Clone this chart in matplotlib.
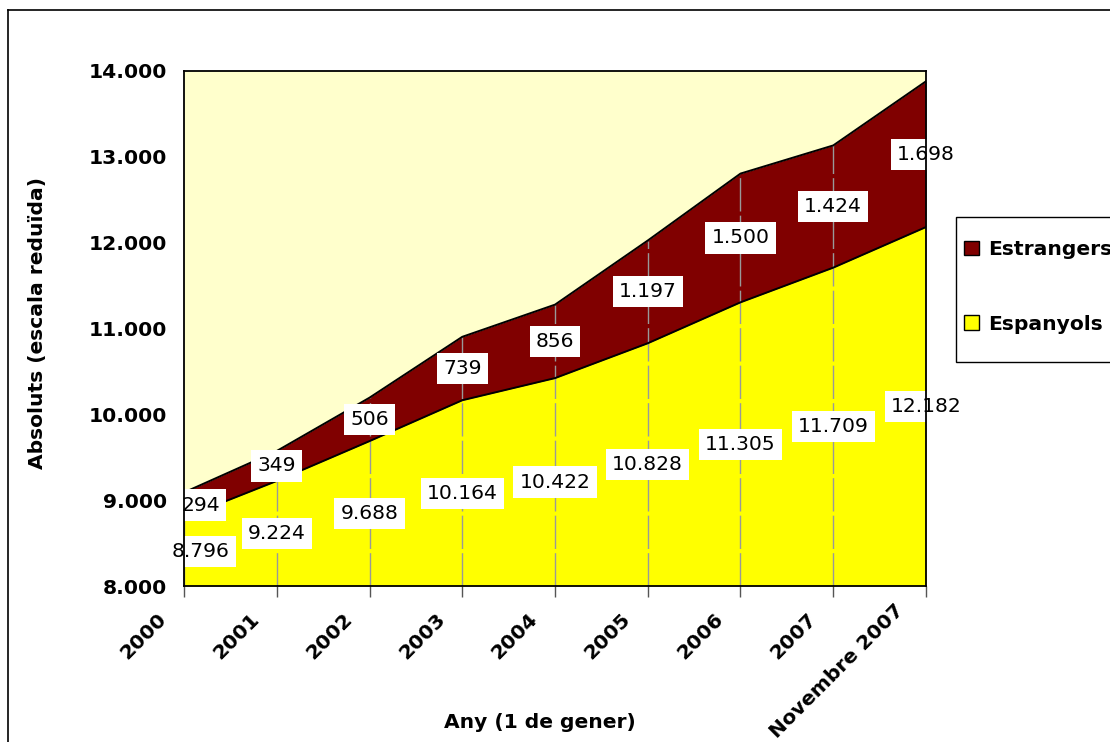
import numpy as np
import matplotlib.pyplot as plt
import matplotlib.transforms as mtransforms
from matplotlib.patches import Patch, Rectangle
from matplotlib.lines import Line2D

plt.rcParams['font.family'] = ['DejaVu Sans']

# population by year (1 January), stacked
years = ["2000", "2001", "2002", "2003", "2004", "2005", "2006", "2007", "Novembre 2007"]
espanyols = [8796, 9224, 9688, 10164, 10422, 10828, 11305, 11709, 12182]
estrangers = [294, 349, 506, 739, 856, 1197, 1500, 1424, 1698]

x = np.arange(len(years))
esp = np.array(espanyols)
tot = esp + np.array(estrangers)

FS = 14.6
W, H = 1110, 742

def fmt(v):
    return f"{v:,}".replace(",", ".")

fig = plt.figure(figsize=(W / 100, H / 100), dpi=100)
ax = fig.add_axes([184 / W, 1 - 586 / H, 742 / W, 515 / H])
ax.set_facecolor("#FFFFCC")

ax.fill_between(x, 8000, esp, color="#FFFF00", lw=0, zorder=1)
ax.fill_between(x, esp, tot, color="#800000", lw=0, zorder=1)
ax.vlines(x, 8000, tot, color="#999999", lw=1, linestyles=(0, (24, 3)), zorder=2)
ax.plot(x, esp, color="black", lw=1.4, zorder=3)
ax.plot(x, tot, color="black", lw=1.4, zorder=3)

box = dict(boxstyle="square,pad=0.3", fc="white", ec="none")
for i in x:
    dx = 12 if i == 0 else 0
    ax.annotate(fmt(espanyols[i]), (i, (8000 + esp[i]) / 2),
                xytext=(dx, 0), textcoords="offset points", ha="center", va="center",
                fontsize=FS, bbox=box, zorder=4)
    ax.annotate(fmt(estrangers[i]), (i, (esp[i] + tot[i]) / 2),
                xytext=(dx, 0), textcoords="offset points", ha="center", va="center",
                fontsize=FS, bbox=box, zorder=4)

ax.set_xlim(0, len(years) - 1)
ax.set_ylim(8000, 14000)
ax.set_yticks(np.arange(8000, 14001, 1000))
ax.set_yticklabels([fmt(v) for v in range(8000, 14001, 1000)],
                   fontsize=FS, fontweight="bold")
ax.set_xticks(x)
ax.set_xticklabels(years, rotation=45, ha="right", rotation_mode="anchor",
                   fontsize=FS, fontweight="bold")
ax.tick_params(axis="y", length=0, pad=12)
ax.tick_params(axis="x", length=8, width=1, color="#555555", pad=6)
labels = ax.get_xticklabels()
for k, lab in enumerate(labels):
    # the long last label sits a little higher and further left
    dxp, dyp = (-32, 5) if k == len(labels) - 1 else (-27, -4)
    shift = mtransforms.ScaledTranslation(dxp / 100, dyp / 100, fig.dpi_scale_trans)
    lab.set_transform(lab.get_transform() + shift)
for s in ax.spines.values():
    s.set_color("black")
    s.set_linewidth(1.3)
    s.set_zorder(5)

fig.text(38 / W, 1 - 323 / H, "Absoluts (escala reduïda)", rotation=90,
         ha="center", va="center", fontsize=FS, fontweight="bold")
fig.text(540 / W, 1 - 722 / H, "Any (1 de gener)", ha="center", va="center",
         fontsize=FS, fontweight="bold")

# legend box, open on the right side of the figure
fig.add_artist(Rectangle((956 / W, 1 - 362 / H), 200 / W, 145 / H, transform=fig.transFigure,
                         fc="white", ec="black", lw=1))
handles = [Patch(fc="#800000", ec="black", lw=1, label="Estrangers"),
           Patch(fc="#FFFF00", ec="black", lw=1, label="Espanyols")]
fig.legend(handles=handles, loc="upper left", bbox_to_anchor=(964 / W, 1 - 240 / H),
           frameon=False, prop={"size": FS, "weight": "bold"},
           handlelength=0.72, handleheight=0.72, handletextpad=0.45,
           labelspacing=2.75, borderpad=0, borderaxespad=0)

# outer chart border
fig.add_artist(Line2D([8 / W, 8 / W], [0, 1 - 10 / H], color="black", lw=1.2))
fig.add_artist(Line2D([8 / W, 1], [1 - 10 / H, 1 - 10 / H], color="black", lw=1.2))

fig.savefig("out.png", dpi=100)
